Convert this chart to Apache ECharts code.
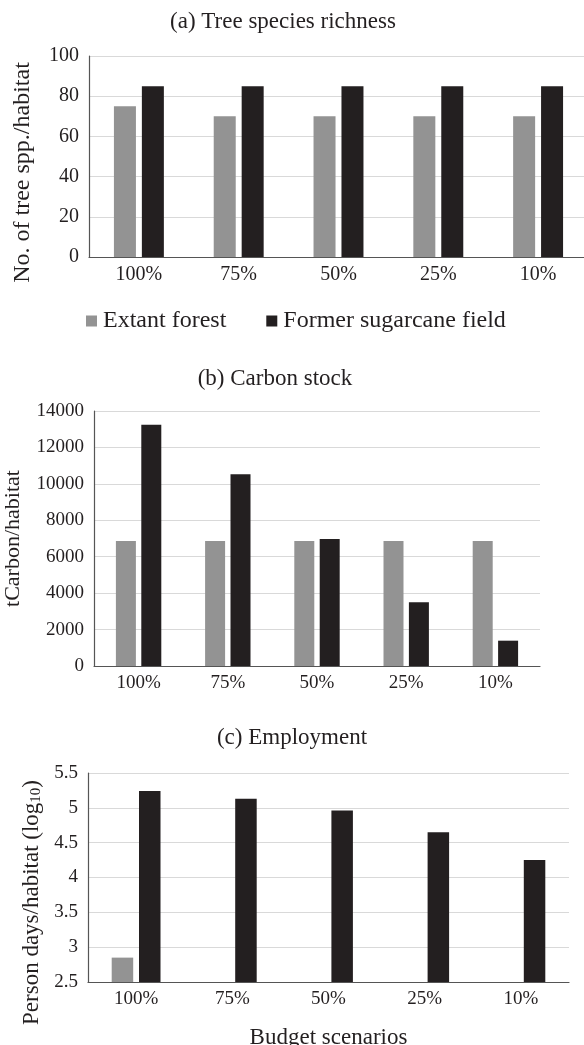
<!DOCTYPE html>
<html>
<head>
    <meta charset="utf-8">
    <title>Budget scenarios</title>
    <script src="https://cdn.jsdelivr.net/npm/echarts@6/dist/echarts.min.js"></script>
    <style>
        html, body { margin: 0; padding: 0; background: #fff; }
    </style>
</head>
<body>
    <div id="main" style="width: 584px;height:1045px;"></div>
    <script type="text/javascript">
        // data
        var categories = ['100%', '75%', '50%', '25%', '10%'];
        var seriesNames = ['Extant forest', 'Former sugarcane field'];

        var richExtant = [75, 70, 70, 70, 70];
        var richFormer = [85, 85, 85, 85, 85];

        var carbonExtant = [6860, 6860, 6860, 6860, 6860];
        var carbonFormer = [13250, 10530, 6970, 3500, 1390];

        var employExtant = [2.85, 2.5, 2.5, 2.5, 2.5];
        var employFormer = [5.24, 5.13, 4.96, 4.65, 4.25];

        var FONT = "'Liberation Serif', 'DejaVu Serif', serif";
        var TXT = '#231f20';
        var GRAY = '#939393';
        var BLACK = '#231f20';

        function xAxisFor(idx, size, extra) {
            var ax = {
                type: 'category',
                gridIndex: idx,
                data: categories,
                axisTick: { show: false },
                axisLine: { lineStyle: { color: '#555', width: 1.2 } },
                axisLabel: { fontFamily: FONT, fontSize: size, color: TXT, margin: 8 }
            };
            if (extra) Object.assign(ax, extra);
            return ax;
        }

        function yAxisFor(idx, min, max, interval, size, extra) {
            var ax = {
                type: 'value',
                gridIndex: idx,
                min: min,
                max: max,
                interval: interval,
                axisLine: { show: true, lineStyle: { color: '#555', width: 1.2 } },
                axisTick: { show: false },
                splitLine: { lineStyle: { color: '#d9d9d9', width: 1 } },
                axisLabel: {
                    fontFamily: FONT, fontSize: size, color: TXT, margin: 10,
                    formatter: function (v) { return String(v); }
                },
                nameLocation: 'middle',
                nameRotate: 90
            };
            if (extra) Object.assign(ax, extra);
            return ax;
        }

        function bars(name, data, idx, color, width) {
            return {
                name: name,
                type: 'bar',
                xAxisIndex: idx,
                yAxisIndex: idx,
                data: data,
                barWidth: width,
                barGap: '27%',
                itemStyle: { color: color },
                emphasis: { disabled: true }
            };
        }

        var myChart = echarts.init(document.getElementById('main'));

        myChart.setOption({
            backgroundColor: '#fff',
            animation: false,
            textStyle: { fontFamily: FONT, color: TXT },
            title: [
                { text: '(a) Tree species richness', left: 283, top: 10, textAlign: 'center', padding: 0,
                  textStyle: { fontFamily: FONT, fontSize: 23, fontWeight: 'normal', color: TXT } },
                { text: '(b) Carbon stock', left: 275, top: 367, textAlign: 'center', padding: 0,
                  textStyle: { fontFamily: FONT, fontSize: 23, fontWeight: 'normal', color: TXT } },
                { text: '(c) Employment', left: 292, top: 726, textAlign: 'center', padding: 0,
                  textStyle: { fontFamily: FONT, fontSize: 23, fontWeight: 'normal', color: TXT } }
            ],
            legend: {
                data: seriesNames,
                left: 86,
                top: 309,
                padding: 0,
                icon: 'rect',
                itemWidth: 11,
                itemHeight: 11,
                itemGap: 40,
                textStyle: { fontFamily: FONT, fontSize: 24, color: TXT, padding: [0, 0, 0, 1] }
            },
            grid: [
                { left: 89, top: 56, width: 499, height: 201, containLabel: false, outerBoundsMode: 'none' },
                { left: 94, top: 411, width: 446, height: 255, containLabel: false, outerBoundsMode: 'none' },
                { left: 88, top: 773, width: 481, height: 209, containLabel: false, outerBoundsMode: 'none' }
            ],
            xAxis: [
                xAxisFor(0, 20),
                xAxisFor(1, 19),
                xAxisFor(2, 19, {
                    name: 'Budget scenarios',
                    nameLocation: 'middle',
                    nameGap: 44,
                    nameTextStyle: { fontFamily: FONT, fontSize: 23, color: TXT }
                })
            ],
            yAxis: [
                yAxisFor(0, 0, 100, 20, 20, {
                    name: 'No. of tree spp./habitat',
                    nameGap: 54,
                    nameTextStyle: { fontFamily: FONT, fontSize: 24, color: TXT, padding: [0, 32, 0, 0] }
                }),
                yAxisFor(1, 0, 14000, 2000, 19, {
                    name: 'tCarbon/habitat',
                    nameGap: 70,
                    nameTextStyle: { fontFamily: FONT, fontSize: 22, color: TXT }
                }),
                yAxisFor(2, 2.5, 5.5, 0.5, 19, {
                    name: '{a|Person days/habitat (log}{s|10}{a|)}',
                    nameGap: 43,
                    nameTextStyle: {
                        padding: [0, 50, 0, 0],
                        rich: {
                            a: { fontFamily: FONT, fontSize: 23, color: TXT },
                            s: { fontFamily: FONT, fontSize: 15, color: TXT, verticalAlign: 'bottom', padding: [8, 0, 0, 0] }
                        }
                    }
                })
            ],
            series: [
                bars(seriesNames[0], richExtant, 0, GRAY, 22),
                bars(seriesNames[1], richFormer, 0, BLACK, 22),
                bars(seriesNames[0], carbonExtant, 1, GRAY, 20),
                bars(seriesNames[1], carbonFormer, 1, BLACK, 20),
                bars(seriesNames[0], employExtant, 2, GRAY, 21.5),
                bars(seriesNames[1], employFormer, 2, BLACK, 21.5)
            ]
        });
    </script>
</body>
</html>
